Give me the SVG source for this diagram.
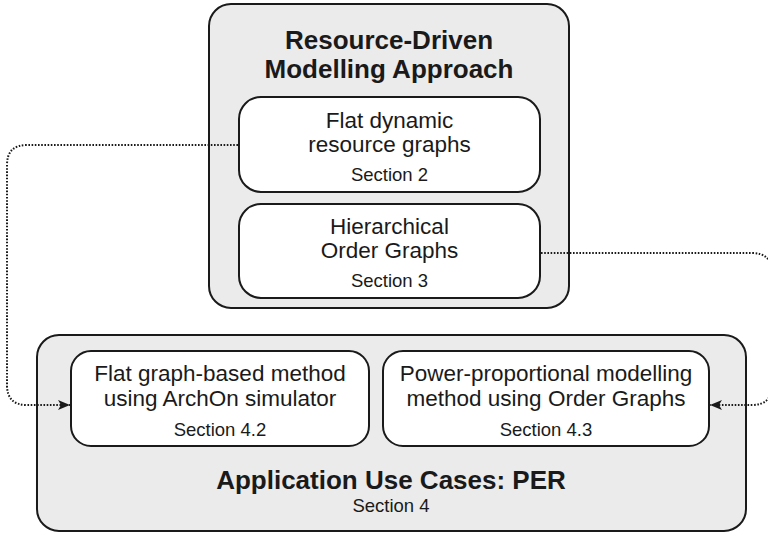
<svg xmlns="http://www.w3.org/2000/svg" width="768" height="534" viewBox="0 0 768 534">
  <style>
    .outer { fill: #ebebeb; stroke: #1a1a1a; stroke-width: 2; }
    .inner { fill: #ffffff; stroke: #1a1a1a; stroke-width: 2; }
    .title { font-family: "Liberation Sans", Arial, sans-serif; font-weight: bold; font-size: 26px; fill: #1a1a1a; text-anchor: middle; }
    .label { font-family: "Liberation Sans", Arial, sans-serif; font-size: 22.5px; fill: #1a1a1a; text-anchor: middle; }
    .sec { font-family: "Liberation Sans", Arial, sans-serif; font-size: 18.5px; fill: #1a1a1a; text-anchor: middle; }
    .link { fill: none; stroke: #1a1a1a; stroke-width: 2; stroke-dasharray: 1.6 1.6; }
  </style>
  <defs>
    <marker id="arrow" viewBox="0 0 12 10" refX="12" refY="5" markerWidth="12" markerHeight="10" markerUnits="userSpaceOnUse" orient="auto">
      <path d="M0,0 L12,5 L0,10 L3,5 Z" fill="#1a1a1a"/>
    </marker>
  </defs>

  <!-- Top container: modelling approach -->
  <g id="approach">
    <rect class="outer" x="209" y="4" width="360" height="304" rx="22"/>
    <text class="title" x="389" y="48.5">Resource-Driven</text>
    <text class="title" x="389" y="78">Modelling Approach</text>
  </g>
  <g id="flat-graphs">
    <rect class="inner" x="239" y="97" width="301" height="95" rx="22"/>
    <text class="label" x="389.5" y="128">Flat dynamic</text>
    <text class="label" x="389.5" y="152">resource graphs</text>
    <text class="sec" x="389.5" y="181">Section 2</text>
  </g>
  <g id="order-graphs">
    <rect class="inner" x="239" y="204" width="301" height="94" rx="22"/>
    <text class="label" x="389.5" y="234">Hierarchical</text>
    <text class="label" x="389.5" y="258">Order Graphs</text>
    <text class="sec" x="389.5" y="287">Section 3</text>
  </g>

  <!-- Bottom container: use cases -->
  <g id="use-cases">
    <rect class="outer" x="37" y="335" width="709" height="196" rx="22"/>
    <text class="title" x="391" y="489">Application Use Cases: PER</text>
    <text class="sec" x="391" y="512">Section 4</text>
  </g>
  <g id="archon-method">
    <rect class="inner" x="71" y="351" width="298" height="95" rx="20"/>
    <text class="label" x="220" y="381">Flat graph-based method</text>
    <text class="label" x="220" y="406">using ArchOn simulator</text>
    <text class="sec" x="220" y="436">Section 4.2</text>
  </g>
  <g id="power-method">
    <rect class="inner" x="383" y="351" width="326" height="95" rx="20"/>
    <text class="label" x="546" y="381">Power-proportional modelling</text>
    <text class="label" x="546" y="406">method using Order Graphs</text>
    <text class="sec" x="546" y="436">Section 4.3</text>
  </g>

  <!-- Connectors -->
  <g id="connectors">
    <path class="link" d="M238,145 H27 Q7,145 7,165 V385 Q7,405 27,405 H70" marker-end="url(#arrow)"/>
    <path class="link" d="M541,253 H752 Q772,253 772,273 V385 Q772,405 752,405 H710" marker-end="url(#arrow)"/>
  </g>
</svg>
